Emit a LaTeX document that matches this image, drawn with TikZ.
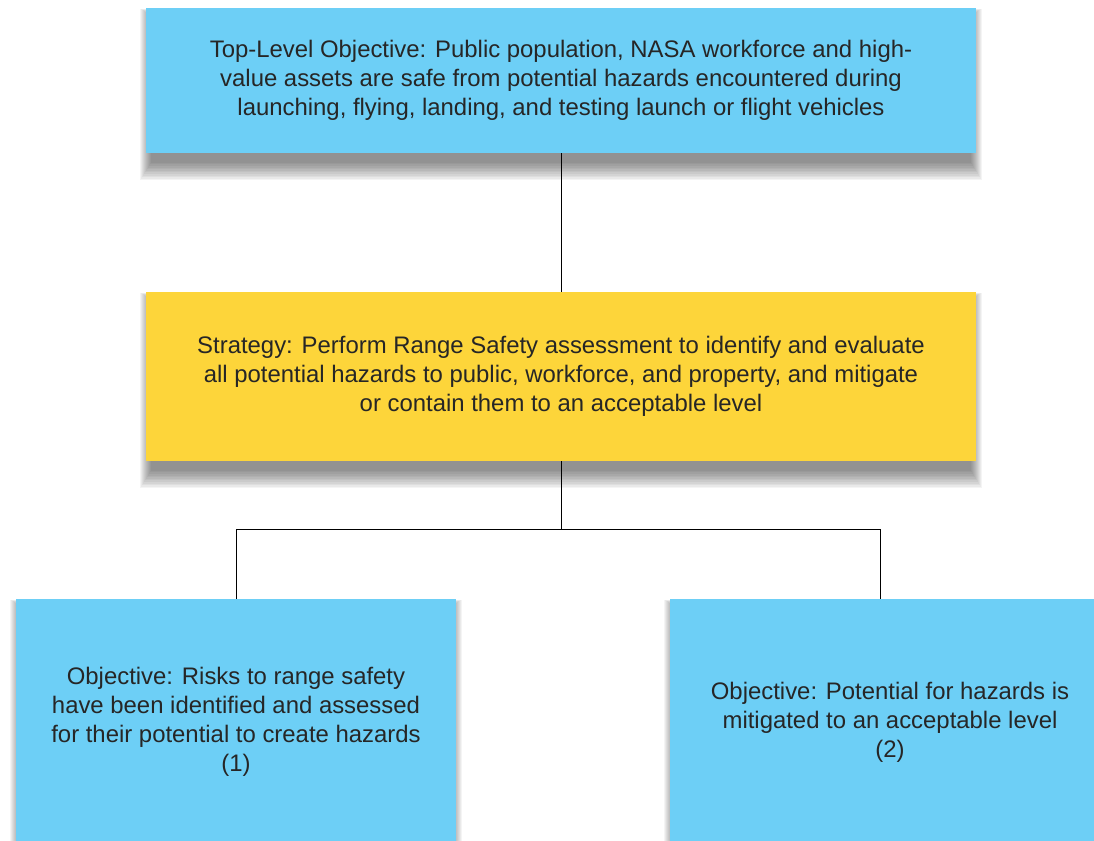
\documentclass[tikz,border=0pt]{standalone}
\usepackage{fontspec}
\setmainfont{Liberation Sans}
\usetikzlibrary{backgrounds}
\definecolor{objblue}{HTML}{6DCFF6}
\definecolor{stratyellow}{HTML}{FDD53A}
\definecolor{txtgray}{HTML}{262626}
\begin{document}
\begin{tikzpicture}[x=1pt, y=-1pt,
    box/.style={fill=#1, text=txtgray, align=center, inner sep=0pt,
      font=\fontsize{23.9}{29}\selectfont},
    link/.style={draw=black, line width=0.8pt}]
    % Cadre
    \useasboundingbox (0, 0) rectangle (1094, 840);

    % Objectif principal
    \node[box=objblue, minimum width=830, minimum height=145]
    (toplevel) at (561, 80.5)
    {Top-Level Objective: Public population, NASA workforce and high-\\
      value assets are safe from potential hazards encountered during\\
      launching, flying, landing, and testing launch or flight vehicles};

    % Strategie
    \node[box=stratyellow, minimum width=830, minimum height=169]
    (strategy) at (561, 376.5)
    {Strategy: Perform Range Safety assessment to identify and evaluate\\
      all potential hazards to public, workforce, and property, and mitigate\\
      or contain them to an acceptable level};

    % Sous-objectifs
    \node[box=objblue, minimum width=440, minimum height=246]
    (obj1) at (236, 722)
    {Objective: Risks to range safety\\
      have been identified and assessed\\
      for their potential to create hazards\\
      (1)};
    \node[box=objblue, minimum width=440, minimum height=246]
    (obj2) at (890, 722)
    {Objective: Potential for hazards is\\
      mitigated to an acceptable level\\
      (2)};

    % Ombres
    \begin{scope}[on background layer]
      \fill[white] (0, 0) rectangle (1094, 840);
      \foreach \n in {toplevel, strategy, obj1, obj2} {
        \foreach \i in {1, ..., 12} {
          \fill[black, opacity=0.045]
          ([xshift=6pt-\i*1pt, yshift=-8pt+\i*0.6pt]\n.north west)
          rectangle ([xshift=\i*1pt-6pt, yshift=-8pt-\i*1.6pt]\n.south east);
        }
      }
    \end{scope}

    % Liens
    \coordinate (split) at (561, 529);
    \draw[link] (toplevel) -- (strategy);
    \draw[link] (strategy) -- (split);
    \draw[link] (obj1.north) |- (split);
    \draw[link] (split) -| ([xshift=-10pt]obj2.north);
  \end{tikzpicture}
\end{document}
